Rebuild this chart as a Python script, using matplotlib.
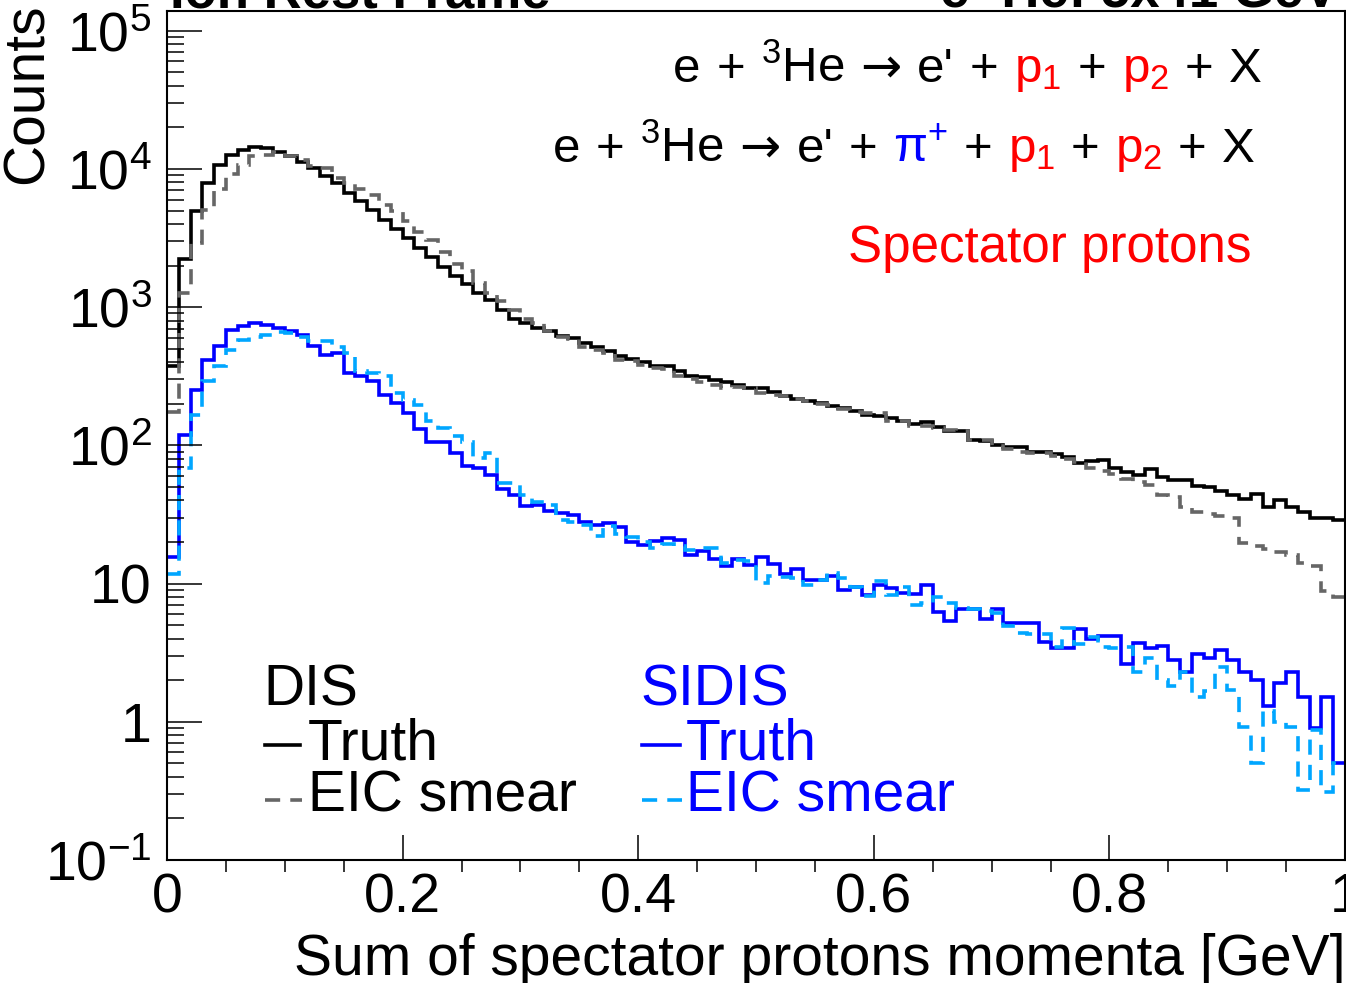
import numpy as np
import matplotlib
matplotlib.use("Agg")
import matplotlib.pyplot as plt
from matplotlib.lines import Line2D
from matplotlib.transforms import IdentityTransform

plt.rcParams["font.family"] = ["Liberation Sans", "DejaVu Sans"]
plt.rcParams["mathtext.fontset"] = "custom"
plt.rcParams["mathtext.rm"] = "Liberation Sans"
plt.rcParams["mathtext.it"] = "Liberation Sans:italic"
plt.rcParams["mathtext.bf"] = "Liberation Sans:bold"
plt.rcParams["mathtext.sf"] = "Liberation Sans"

W, H = 1346, 983

# 100 bins of 10 MeV from 0 to 1 GeV
bin_edges = np.linspace(0, 1, 101)

dis_truth = [
    378, 2228, 4989, 7907, 10715, 12677, 13614, 14388, 14158, 13305,
    12474, 11143, 10139, 8933, 7907, 6699, 5888, 5070, 4285, 3673,
    3162, 2692, 2317, 1941, 1679, 1476, 1265, 1132, 946, 820,
    767, 706, 667, 614, 594, 550, 514, 479, 440, 424,
    398, 378, 372, 343, 319, 310, 299, 285, 274, 262,
    259, 244, 229, 216, 208, 202, 194, 186, 176, 166,
    164, 157, 149, 143, 147, 136, 126, 127, 110, 108,
    101, 98, 98, 90, 89, 87, 82, 75, 77, 78,
    69, 64, 61, 67, 59, 56, 56, 51, 50, 47,
    44, 41, 44.5, 36, 40, 36, 33, 30, 30, 29,
]
dis_smear = [
    174, 1265, 2911, 5070, 7145, 9183, 10715, 12331, 12677, 13183,
    12331, 11535, 10423, 10139, 8590, 7907, 7145, 6501, 5508, 4932,
    4169, 3516, 3076, 2512, 2061, 1811, 1493, 1265, 1099, 957,
    824, 774, 667, 608, 589, 516, 490, 466, 416, 407,
    383, 363, 358, 316, 302, 285, 275, 259, 263, 259,
    240, 232, 227, 216, 208, 200, 195, 184, 173, 172,
    171, 151, 149, 139, 138, 133, 129, 126, 110, 110,
    99, 94, 89, 88, 88, 84, 79, 76, 69, 65,
    62, 57, 54, 52, 44, 42, 36, 33, 32, 31,
    30, 19.6, 18.6, 17.8, 17, 16, 14.2, 13.3, 8.8, 8.0,
]
sidis_truth = [
    15.6, 119, 252, 416, 520, 687, 733, 767, 746, 706,
    667, 631, 520, 453, 466, 333, 319, 290, 232, 202,
    171, 131, 105, 106, 88, 71, 69, 61, 48, 44,
    36.6, 37.2, 33.3, 32.4, 31.6, 28.1, 26.6, 27.4, 25.6, 19.9,
    19.1, 20.4, 21.3, 20.5, 16.1, 17.1, 15.0, 13.3, 15.0, 13.7,
    15.6, 13.9, 11.7, 12.7, 10.6, 10.6, 11.4, 9.0, 9.5, 8.2,
    9.8, 9.3, 8.5, 8.4, 9.8, 6.2, 5.4, 6.5, 6.5, 5.5,
    6.5, 5.2, 5.2, 5.2, 3.75, 3.4, 3.4, 4.7, 4.0, 4.2,
    4.2, 2.6, 3.7, 3.4, 3.55, 2.8, 2.3, 3.1, 2.9, 3.3,
    2.8, 2.3, 2.0, 1.3, 1.9, 2.3, 1.5, 0.9, 1.5, 0.5,
]
sidis_smear = [
    11.8, 69, 166, 290, 372, 492, 575, 608, 631, 656,
    646, 608, 565, 565, 514, 466, 343, 333, 316, 239,
    214, 195, 151, 133, 117, 106, 81, 88, 53, 53,
    44, 39, 37, 29, 28, 26.6, 22.2, 25.9, 22.9, 21.7,
    20, 18.2, 19.4, 18.6, 17.6, 18.1, 18.1, 14.1, 14.8, 14.5,
    10.1, 11.3, 11.2, 11.0, 9.8, 10.7, 11.9, 11.0, 9.5, 8.1,
    10.4, 8.3, 9.4, 7.0, 7.2, 8.0, 7.2, 6.7, 6.6, 6.3,
    6.1, 4.9, 4.4, 4.3, 4.3, 3.5, 4.8, 3.65, 4.1, 3.5,
    3.4, 3.5, 2.3, 2.9, 2.0, 1.8, 2.3, 1.5, 1.66, 2.5,
    1.7, 0.91, 0.5, 1.2, 1.0, 0.92, 0.32, 0.87, 0.31, 0.5,
]

y_ticks = [0.1, 1, 10, 100, 1000, 1e4, 1e5]
y_ticklabels = ["$10^{-1}$", "1", "10", "$10^{2}$", "$10^{3}$", "$10^{4}$", "$10^{5}$"]
x_ticks = [0, 0.2, 0.4, 0.6, 0.8, 1.0]
x_ticklabels = ["0", "0.2", "0.4", "0.6", "0.8", "1"]

c_dis, c_dis_s = "black", "#666666"
c_sidis, c_sidis_s = "#0000ff", "#00a6ff"
lw = 2.6
dash = (0, (4.2, 2.8))

fig = plt.figure(figsize=(W / 100, H / 100), dpi=100)
ax = fig.add_axes([167 / W, 1 - 860 / H, (1345 - 167) / W, (860 - 10.5) / H])

ax.stairs(dis_truth, bin_edges, baseline=None, color=c_dis, lw=lw)
ax.stairs(dis_smear, bin_edges, baseline=None, color=c_dis_s, lw=lw, ls=dash)
ax.stairs(sidis_truth, bin_edges, baseline=None, color=c_sidis, lw=lw)
ax.stairs(sidis_smear, bin_edges, baseline=None, color=c_sidis_s, lw=lw, ls=dash)

ax.set_yscale("log")
ax.set_xlim(0, 1)
ax.set_ylim(0.1, 1.4e5)
ax.set_yticks(y_ticks, y_ticklabels)
ax.set_xticks(x_ticks, x_ticklabels)
ax.xaxis.set_minor_locator(matplotlib.ticker.MultipleLocator(0.05))
ax.yaxis.set_minor_locator(matplotlib.ticker.LogLocator(base=10, subs=np.arange(2, 10)))
ax.yaxis.set_minor_formatter(matplotlib.ticker.NullFormatter())
ax.tick_params(axis="both", direction="in", labelsize=40, width=1.1)
ax.tick_params(axis="x", which="major", length=18, pad=9)
ax.tick_params(axis="x", which="minor", length=8.6, width=1.1)
ax.tick_params(axis="y", which="major", length=25, pad=11)
ax.tick_params(axis="y", which="minor", length=12, width=1.1, direction="in")
for s in ax.spines.values():
    s.set_linewidth(1.5)

ident = IdentityTransform()


def ptext(x, y, s, **kw):
    # place text at pixel position measured from the top-left corner
    return fig.text(x, H - y, s, transform=ident, **kw)


ptext(1346, 975, "Sum of spectator protons momenta [GeV]", fontsize=41, ha="right", va="baseline")
ptext(28, 4, "Counts", fontsize=41, rotation=90, ha="center", va="top")

# cut-off header lines
ptext(170, 7, "Ion Rest Frame", fontsize=38, fontweight="bold", va="baseline")
ptext(1338, 7, "e \u00b3He: 5x41 GeV", fontsize=38, fontweight="bold", ha="right", va="baseline")

renderer = fig.canvas.get_renderer()


def colored_line(tokens, x0, x1, y, size):
    arts = []
    for tok in tokens:
        s, c = tok if isinstance(tok, tuple) else (tok, "black")
        kw = {"family": "DejaVu Sans"} if s == "\u2192" else {}
        arts.append(ptext(0, y, s, color=c, fontsize=size, va="baseline", **kw))
    widths = [a.get_window_extent(renderer).width for a in arts]
    gap = (x1 - x0 - sum(widths)) / (len(arts) - 1)
    x = x0
    for a, w in zip(arts, widths):
        a.set_x(x)
        x += w + gap


arrow = "\u2192"
colored_line(["e", "+", "$^{3}$He", arrow, "e'", "+", ("p$_{1}$", "red"), "+",
              ("p$_{2}$", "red"), "+", "X"], 673, 1262, 82, 35.5)
colored_line(["e", "+", "$^{3}$He", arrow, "e'", "+", ("$\\mathrm{\\pi}^{+}$", c_sidis), "+",
              ("p$_{1}$", "red"), "+", ("p$_{2}$", "red"), "+", "X"], 553, 1255, 162, 35.5)
ptext(1252, 262, "Spectator protons", color="red", fontsize=36.8, ha="right", va="baseline")

# legend
ptext(263, 705, "DIS", fontsize=41, va="baseline")
ptext(308, 760, "Truth", fontsize=41, va="baseline")
ptext(308, 812, "EIC smear", fontsize=41, va="baseline")
ptext(640, 705, "SIDIS", fontsize=41, color=c_sidis, va="baseline")
ptext(686, 760, "Truth", fontsize=41, color=c_sidis, va="baseline")
ptext(686, 812, "EIC smear", fontsize=41, color=c_sidis, va="baseline")
for (xa, xb, y, c, ls) in [(265, 300, 745, c_dis, "-"), (265, 302, 800, c_dis_s, dash),
                           (642, 680, 745, c_sidis, "-"), (642, 682, 800, c_sidis_s, dash)]:
    fig.add_artist(Line2D([xa, xb], [H - y, H - y], transform=ident, color=c, lw=lw, ls=ls))

fig.savefig("out.png", dpi=100)
